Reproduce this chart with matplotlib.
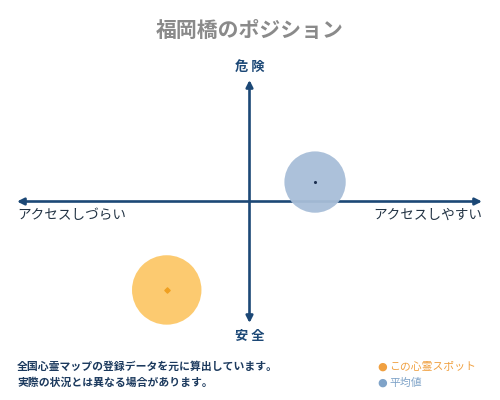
import matplotlib.pyplot as plt

plt.rcParams['font.family'] = ['Noto Sans CJK JP', 'DejaVu Sans']

title = '福岡橋のポジション'
label_top = '危 険'
label_bottom = '安 全'
label_left = 'アクセスしづらい'
label_right = 'アクセスしやすい'
notes = ['全国心霊マップの登録データを元に算出しています。',
         '実際の状況とは異なる場合があります。']
series_names = ['この心霊スポット', '平均値']

# position on the access (x) / danger (y) axes, range -5..5
spot_x = [-1.78]
spot_y = [-3.64]
avg_x = [1.41]
avg_y = [0.80]

navy = '#1c4876'
orange_fill = '#fcc868'
orange_dot = '#f0a020'
blue_fill = '#a8bed8'
blue_dot = '#1c3050'

fig = plt.figure(figsize=(5, 4), dpi=100)
ax = fig.add_axes([0.034, 0.1925, 0.93, 0.6075])
ax.set_xlim(-5, 5)
ax.set_ylim(-5, 5)
ax.axis('off')

arrow = dict(arrowstyle='<|-|>', color=navy, lw=1.9, mutation_scale=10, shrinkA=0, shrinkB=0)
ax.annotate('', xy=(5, 0), xytext=(-5, 0), arrowprops=arrow)
ax.annotate('', xy=(0, 5), xytext=(0, -5), arrowprops=arrow)

ax.scatter(avg_x, avg_y, s=1950, color=blue_fill, alpha=0.95, edgecolors='none',
           zorder=3, clip_on=False)
ax.scatter(avg_x, avg_y, s=1.5, color=blue_dot, zorder=4)
ax.scatter(spot_x, spot_y, s=2500, color=orange_fill, alpha=0.95, edgecolors='none',
           zorder=3, clip_on=False)
ax.scatter(spot_x, spot_y, s=7, color=orange_dot, marker='D', zorder=4)

fig.text(0.5, 1 - 30 / 400, title, ha='center', va='center', fontsize=15,
         color='#8a8a8a', fontweight='bold')
fig.text(0.5, 1 - 67 / 400, label_top, ha='center', va='center', fontsize=9.5,
         color=navy, fontweight='bold')
fig.text(0.5, 1 - 336 / 400, label_bottom, ha='center', va='center', fontsize=9.5,
         color=navy, fontweight='bold')
fig.text(17 / 500, 1 - 215 / 400, label_left, ha='left', va='center', fontsize=9.8,
         color='#223344')
fig.text(482 / 500, 1 - 215 / 400, label_right, ha='right', va='center', fontsize=9.8,
         color='#223344')

for i, line in enumerate(notes):
    fig.text(17 / 500, 1 - (367 + 16 * i) / 400, line, ha='left', va='center',
             fontsize=7.8, color='#1c3a5e', fontweight='bold')

legend_colors = ['#f0a040', '#7fa3c8']
for i, (name, c) in enumerate(zip(series_names, legend_colors)):
    y = 1 - (367 + 16 * i) / 400
    fig.text(382 / 500, y, '●', ha='center', va='center', fontsize=8, color=c,
             family='DejaVu Sans')
    fig.text(389 / 500, y, name, ha='left', va='center', fontsize=7.8, color=c)

fig.savefig('out.png', dpi=100)
